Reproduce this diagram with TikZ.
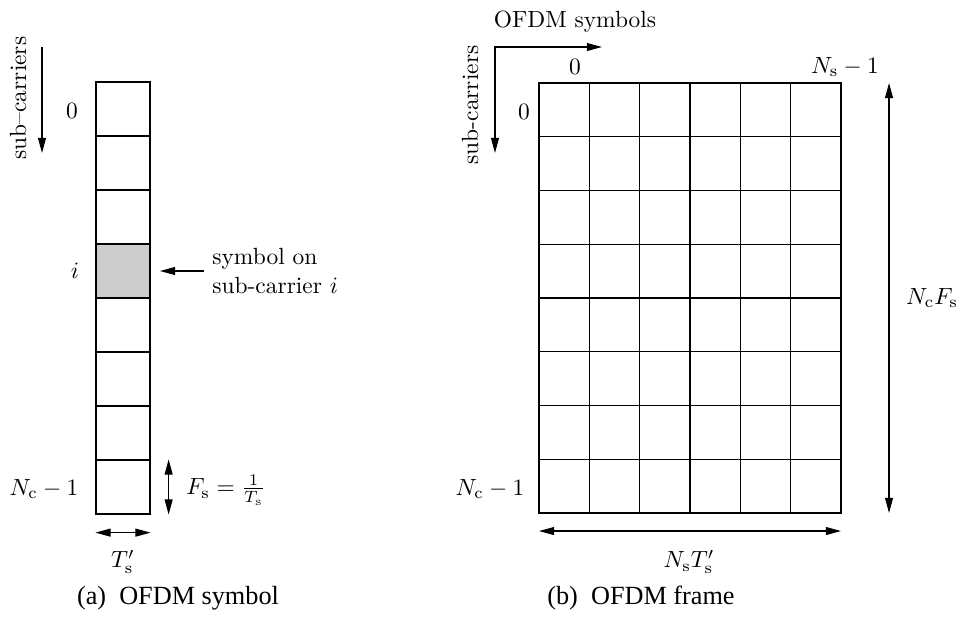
\documentclass[tikz,border=0pt]{standalone}
\usepackage{fontspec}
\newfontfamily\capfont{Liberation Serif}
\usetikzlibrary{arrows.meta}

\tikzset{
  cell/.style={draw,minimum width=0.81cm,minimum height=0.81cm,inner sep=0pt},
  tip/.style={-{Triangle[length=6.5pt,width=3.4pt]}},
  dtip/.style={{Triangle[length=6.5pt,width=3.4pt]}-{Triangle[length=6.5pt,width=3.4pt]}},
  caption/.style={font=\capfont\fontsize{11.2}{13}\selectfont}
}

\begin{document}
\begin{tikzpicture}[x=0.015cm,y=-0.015cm,line width=0.5pt]
\useasboundingbox (0,0) rectangle (959,620);
% (a) one OFDM symbol
\foreach \k in {0,1,2,4,5,6,7}
  \node[cell] (c\k) at (123,{109+54*\k}) {};
\node[cell,fill=black!20] (c3) at (123,271) {};
\coordinate (sctop) at (42,47); \coordinate (scbot) at (42,153);
\draw[tip] (sctop) -- (scbot);
\node[rotate=90] (sclbl) at (18,98) {sub--carriers};
\node (rzero) at (72,111) {$0$};
\node (ri) at (75,271) {$i$};
\node (rlast) at (44,489) {$N_\mathrm{c}-1$};
\node[anchor=west,align=left] (sym) at (204,271) {symbol on\\sub-carrier $i$};
\draw[tip] (sym.west) -- ([xshift=4pt]c3.east);
\draw[dtip] ([xshift=7.7pt]c7.north east) -- ([xshift=7.7pt]c7.south east);
\node[anchor=west] (fs) at (178,490) {$F_\mathrm{s}=\frac{1}{T_\mathrm{s}}$};
\draw[dtip] ([yshift=-7.7pt]c7.south west) -- ([yshift=-7.7pt]c7.south east);
\node (ts) at (123,562) {$T'_\mathrm{s}$};
\node[caption] (capa) at (178,598) {(a)\enspace OFDM symbol};
% (b) OFDM frame
\coordinate (fnw) at (539,83); \coordinate (fne) at (841,83);
\coordinate (fsw) at (539,513); \coordinate (fse) at (841,513);
\draw (fnw) rectangle (fse);
\foreach \i in {1,...,5}
  \draw ({539+50.33*\i},83) -- ({539+50.33*\i},513);
\foreach \j in {1,...,7}
  \draw (539,{83+53.75*\j}) -- (841,{83+53.75*\j});
\coordinate (ax) at (495,47); \coordinate (axr) at (602,47); \coordinate (axd) at (495,153);
\draw[dtip] (axd) -- (ax) -- (axr);
\node (symlbl) at (575,22) {OFDM symbols};
\node[rotate=90] (sclbl2) at (470,105) {sub-carriers};
\node (czero) at (575,67) {$0$};
\node (clast) at (845,67) {$N_\mathrm{s}-1$};
\node (rzero2) at (524,112) {$0$};
\node (rlast2) at (490,489) {$N_\mathrm{c}-1$};
\draw[dtip] ([xshift=20.5pt]fne) -- ([xshift=20.5pt]fse);
\node (ncfs) at (932,298) {$N_\mathrm{c}F_\mathrm{s}$};
\draw[dtip] ([yshift=-7.7pt]fsw) -- ([yshift=-7.7pt]fse);
\node (nsts) at (689,562) {$N_\mathrm{s}T'_\mathrm{s}$};
\node[caption] (capb) at (641,598) {(b)\enspace OFDM frame};
\end{tikzpicture}
\end{document}
